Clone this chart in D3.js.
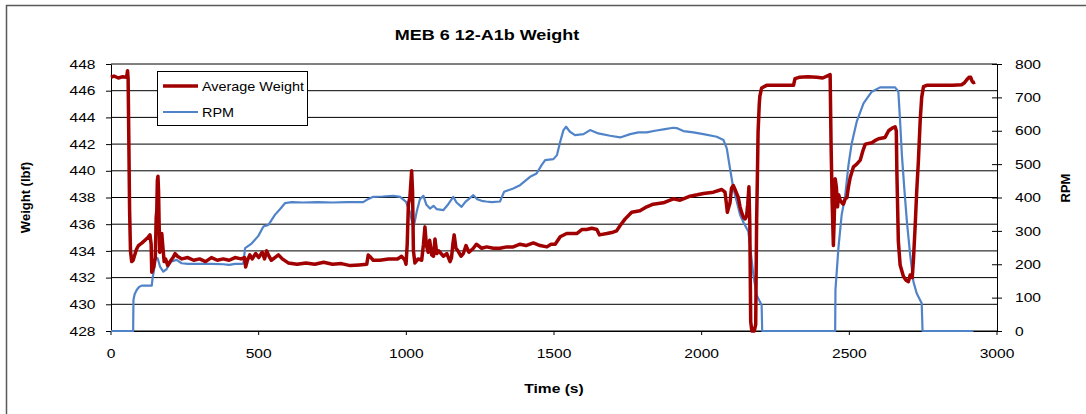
<!DOCTYPE html>
<html>
<head>
<meta charset="utf-8">
<script src="https://cdn.jsdelivr.net/npm/d3@7"></script>
<style>
  body { margin: 0; background: #fff; }
  svg { display: block; font-family: "Liberation Sans", Arial, sans-serif; }
</style>
</head>
<body>
<svg width="1086" height="414"></svg>
<script>
// Average weight (left axis), time in s
const weightTime = [0, 10, 25, 40, 53, 56, 58, 60, 63, 66, 70, 75, 79, 86, 93, 105, 115, 125, 132, 136, 138, 145, 150, 153, 155, 157, 159, 161, 163, 165, 168, 172, 176, 180, 185, 192, 200, 210, 217, 225, 240, 260, 280, 300, 320, 340, 360, 380, 400, 420, 440, 452, 456, 462, 470, 478, 490, 500, 512, 520, 527, 535, 543, 555, 567, 580, 600, 630, 660, 690, 720, 750, 780, 810, 840, 866, 871, 880, 888, 910, 940, 970, 984, 995, 999, 1003, 1007, 1012, 1015, 1018, 1021, 1024, 1029, 1040, 1052, 1058, 1063, 1068, 1074, 1079, 1086, 1092, 1097, 1103, 1110, 1125, 1137, 1148, 1153, 1158, 1162, 1168, 1175, 1185, 1193, 1202, 1212, 1227, 1237, 1255, 1272, 1295, 1317, 1340, 1362, 1385, 1405, 1430, 1453, 1476, 1490, 1504, 1521, 1543, 1560, 1577, 1594, 1610, 1628, 1645, 1654, 1679, 1700, 1712, 1724, 1741, 1763, 1791, 1814, 1836, 1870, 1904, 1927, 1961, 1985, 2006, 2040, 2068, 2079, 2084, 2087, 2092, 2096, 2101, 2107, 2115, 2124, 2130, 2135, 2142, 2147, 2152, 2156, 2160, 2163, 2166, 2170, 2178, 2183, 2186, 2189, 2191, 2195, 2197, 2203, 2220, 2270, 2311, 2316, 2330, 2360, 2390, 2410, 2435, 2438, 2442, 2446, 2449, 2452, 2456, 2460, 2464, 2469, 2475, 2480, 2486, 2492, 2497, 2503, 2514, 2525, 2537, 2546, 2554, 2576, 2590, 2599, 2621, 2633, 2645, 2655, 2659, 2661, 2666, 2672, 2683, 2692, 2700, 2706, 2713, 2717, 2723, 2728, 2734, 2740, 2745, 2751, 2762, 2800, 2850, 2880, 2890, 2897, 2905, 2911, 2916, 2920, 2926];
const weightValues = [447.0, 447.1, 446.95, 447.05, 447.0, 447.5, 446.9, 443.0, 437.0, 434.0, 433.2, 433.3, 433.6, 434.1, 434.4, 434.6, 434.8, 435.0, 435.2, 434.5, 432.4, 432.8, 433.5, 436.5, 437.0, 439.3, 439.6, 438.5, 436.0, 433.9, 434.5, 435.3, 434.2, 433.2, 433.4, 432.9, 433.2, 433.5, 433.8, 433.6, 433.4, 433.5, 433.3, 433.4, 433.2, 433.5, 433.3, 433.4, 433.3, 433.5, 433.4, 433.5, 432.8, 433.3, 433.7, 433.4, 433.8, 433.5, 433.9, 433.4, 434.0, 433.6, 433.3, 433.5, 433.7, 433.4, 433.1, 433.0, 433.1, 433.0, 433.15, 433.0, 433.05, 432.9, 432.95, 433.0, 433.7, 433.5, 433.3, 433.3, 433.4, 433.4, 433.6, 433.3, 433.0, 434.5, 437.5, 438.0, 439.0, 440.0, 438.5, 434.0, 433.1, 433.4, 433.3, 434.5, 435.8, 434.4, 433.9, 434.8, 433.7, 433.6, 434.9, 433.8, 434.0, 433.6, 433.8, 433.2, 433.5, 434.6, 435.2, 434.2, 434.0, 433.6, 433.8, 434.4, 433.9, 434.2, 434.5, 434.2, 434.3, 434.2, 434.2, 434.3, 434.3, 434.5, 434.4, 434.6, 434.4, 434.3, 434.5, 434.5, 435.06, 435.3, 435.3, 435.3, 435.6, 435.6, 435.7, 435.6, 435.2, 435.3, 435.4, 435.5, 435.9, 436.4, 436.9, 437.0, 437.3, 437.5, 437.6, 437.9, 437.8, 438.1, 438.2, 438.3, 438.4, 438.6, 438.4, 437.5, 436.9, 437.3, 437.6, 438.7, 438.9, 438.5, 438.0, 437.3, 436.9, 436.5, 436.4, 436.6, 437.5, 438.8, 436.0, 428.7, 428.0, 428.0, 428.5, 436.1, 440.0, 442.9, 445.0, 445.6, 446.2, 446.4, 446.4, 446.4, 446.9, 447.0, 447.05, 447.0, 446.95, 447.2, 442.2, 437.5, 434.4, 436.5, 439.4, 438.8, 437.3, 438.2, 437.8, 437.6, 437.5, 437.9, 438.0, 438.8, 439.5, 440.3, 440.5, 440.8, 441.5, 442.0, 442.1, 442.3, 442.4, 442.5, 443.0, 443.2, 443.3, 443.0, 439.9, 434.7, 432.95, 432.1, 431.8, 431.7, 432.2, 432.0, 433.3, 435.9, 438.4, 440.8, 443.8, 445.5, 446.3, 446.4, 446.4, 446.4, 446.45, 446.6, 446.8, 447.0, 447.0, 446.7, 446.6, 446.65];

// RPM (right axis)
const rpmTime = [0, 75, 76, 80, 87, 95, 104, 138, 141, 145, 149, 158, 162, 166, 177, 188, 197, 205, 222, 239, 260, 300, 340, 380, 400, 420, 440, 448, 454, 476, 499, 516, 533, 555, 572, 589, 612, 650, 700, 750, 800, 854, 870, 888, 920, 956, 979, 999, 1012, 1024, 1035, 1046, 1058, 1068, 1080, 1092, 1103, 1125, 1142, 1159, 1170, 1187, 1200, 1227, 1240, 1255, 1270, 1289, 1317, 1331, 1362, 1385, 1419, 1441, 1458, 1470, 1498, 1510, 1521, 1532, 1541, 1554, 1571, 1600, 1622, 1650, 1690, 1724, 1758, 1786, 1814, 1842, 1876, 1904, 1915, 1938, 1972, 2006, 2051, 2074, 2085, 2096, 2107, 2119, 2130, 2143, 2158, 2166, 2175, 2186, 2197, 2203, 2205, 2452, 2453, 2463, 2474, 2486, 2497, 2508, 2525, 2548, 2576, 2604, 2655, 2666, 2672, 2678, 2686, 2695, 2706, 2717, 2728, 2745, 2748, 2920];
const rpmValues = [0, 0, 93, 110, 123, 132, 136, 136, 160, 178, 213, 218, 205, 193, 178, 185, 200, 208, 213, 203, 201, 201, 201, 200, 198, 201, 201, 202, 248, 262, 285, 313, 318, 348, 365, 383, 386, 385, 386, 385, 386, 386, 395, 402, 403, 405, 402, 387, 357, 308, 357, 395, 405, 378, 367, 375, 365, 362, 380, 402, 385, 372, 387, 407, 395, 390, 388, 386, 388, 417, 427, 437, 462, 472, 497, 512, 515, 527, 567, 602, 612, 597, 587, 590, 602, 592, 585, 580, 590, 595, 595, 600, 605, 609, 608, 599, 595, 590, 582, 572, 547, 487, 428, 387, 348, 323, 298, 238, 168, 108, 88, 78, 0, 0, 123, 248, 348, 405, 497, 562, 627, 682, 717, 730, 730, 717, 627, 527, 428, 327, 228, 148, 113, 83, 0, 0];

const weightTicks = d3.range(428, 449, 2);
const rpmTicks = d3.range(0, 801, 100);
const timeTicks = d3.range(0, 3001, 500);

const chartTitle = 'MEB 6 12-A1b Weight';
const seriesNames = ['Average Weight', 'RPM'];
const seriesColors = ['#a00000', '#5083c8'];

// the picture is a bit wider than it is tall, horizontal text is stretched
const sx = 1.2;

const svg = d3.select('svg');

const plot = { left: 111, right: 997, top: 64, bottom: 331 };

const xScale = d3.scaleLinear().domain([0, 3000]).range([plot.left, plot.right]);
const yWeight = d3.scaleLinear().domain([428, 448]).range([plot.bottom, plot.top]);
const yRpm = d3.scaleLinear().domain([0, 800]).range([plot.bottom, plot.top]);

// chart area border
svg.append('rect')
  .attr('x', 6.5)
  .attr('y', 5.5)
  .attr('width', 1200)
  .attr('height', 600)
  .attr('fill', 'none')
  .attr('stroke', '#5a5a5a')
  .attr('stroke-width', 1.5);

// gridlines at the left axis ticks
svg.append('g')
  .selectAll('line')
  .data(weightTicks)
  .enter().append('line')
    .attr('x1', plot.left)
    .attr('x2', plot.right)
    .attr('y1', d => yWeight(d))
    .attr('y2', d => yWeight(d))
    .attr('stroke', '#000')
    .attr('stroke-width', 1);

// stretched text helper
const addText = (g, x, y, txt, opts = {}) => {
  const t = g.append('text')
    .attr('transform', opts.rotate
      ? `translate(${x},${y}) rotate(-90)`
      : `translate(${x},${y}) scale(${sx},1)`)
    .attr('text-anchor', opts.anchor || 'middle')
    .attr('font-size', opts.size || 13)
    .attr('font-weight', opts.bold ? 'bold' : 'normal')
    .attr('fill', '#000')
    .text(txt);
  return t;
};

// Left axis
const leftAxis = svg.append('g')
  .attr('transform', `translate(${plot.left},0)`)
  .call(d3.axisLeft(yWeight).tickValues(weightTicks).tickSize(5).tickSizeOuter(0).tickFormat(d3.format('d')));

leftAxis.selectAll('text')
  .attr('font-size', 13)
  .attr('font-family', 'Liberation Sans, Arial, sans-serif')
  .attr('x', -15.5 / sx)
  .attr('transform', `scale(${sx},1)`);

// Right axis, ticks cross the line
const rightAxis = svg.append('g')
  .attr('transform', `translate(${plot.right},0)`)
  .call(d3.axisRight(yRpm).tickValues(rpmTicks).tickSize(5).tickSizeOuter(0));

rightAxis.selectAll('.tick line').attr('x1', -5).attr('x2', 5);
rightAxis.selectAll('text')
  .attr('font-size', 13)
  .attr('font-family', 'Liberation Sans, Arial, sans-serif')
  .attr('x', 18 / sx)
  .attr('transform', `scale(${sx},1)`);

// Bottom axis
const bottomAxis = svg.append('g')
  .attr('transform', `translate(0,${plot.bottom})`)
  .call(d3.axisBottom(xScale).tickValues(timeTicks).tickSize(4).tickSizeOuter(0).tickFormat(d3.format('d')));

bottomAxis.selectAll('text')
  .attr('font-size', 13)
  .attr('font-family', 'Liberation Sans, Arial, sans-serif')
  .attr('y', 27)
  .attr('dy', 0)
  .attr('transform', `scale(${sx},1)`)
  .attr('x', 0);

// put the scaled labels back over their ticks
bottomAxis.selectAll('.tick').each(function (d) {
  select_tick(this, d);
});
function select_tick(node, d) {
  const tick = d3.select(node);
  tick.attr('transform', null);
  tick.select('line').attr('transform', `translate(${xScale(d)},0)`);
  tick.select('text').attr('transform', `translate(${xScale(d)},0) scale(${sx},1)`);
}

[leftAxis, rightAxis, bottomAxis].forEach(a => {
  a.selectAll('path, line').attr('stroke', '#000');
  a.selectAll('text').attr('fill', '#000');
});

// series lines
const weightLine = d3.line()
  .x((d, i) => xScale(weightTime[i]))
  .y(d => yWeight(d));

const rpmLine = d3.line()
  .x((d, i) => xScale(rpmTime[i]))
  .y(d => yRpm(d));

svg.append('path')
  .datum(rpmValues)
  .attr('d', rpmLine)
  .attr('fill', 'none')
  .attr('stroke', seriesColors[1])
  .attr('stroke-width', 2.2)
  .attr('stroke-linejoin', 'round');

svg.append('path')
  .datum(weightValues)
  .attr('d', weightLine)
  .attr('fill', 'none')
  .attr('stroke', seriesColors[0])
  .attr('stroke-width', 3.5)
  .attr('stroke-linejoin', 'round');

// Titles
addText(svg, 487, 40, chartTitle, { size: 15, bold: true });
addText(svg, (plot.left + plot.right) / 2, 393, 'Time (s)', { bold: true });
addText(svg, 30, (plot.top + plot.bottom) / 2, 'Weight (lbf)', { bold: true, rotate: true });
addText(svg, 1070, 188, 'RPM', { bold: true, rotate: true });

// Legend
const legendG = svg.append('g').attr('transform', 'translate(157,71)');

legendG.append('rect')
  .attr('x', 0.5)
  .attr('y', 0.5)
  .attr('width', 150)
  .attr('height', 54)
  .attr('fill', '#fff')
  .attr('stroke', '#000')
  .attr('stroke-width', 1);

const legendItems = legendG.selectAll('.legendItem')
  .data(seriesNames)
  .enter().append('g')
    .attr('class', 'legendItem')
    .attr('transform', (d, i) => `translate(0,${15 + i * 26})`);

legendItems.append('line')
  .attr('x1', 6)
  .attr('x2', 41)
  .attr('stroke', (d, i) => seriesColors[i])
  .attr('stroke-width', (d, i) => i === 0 ? 3.5 : 2.2);

legendItems.each(function (d) {
  addText(d3.select(this), 45, 4.5, d, { size: 12, anchor: 'start' });
});
</script>
</body>
</html>
